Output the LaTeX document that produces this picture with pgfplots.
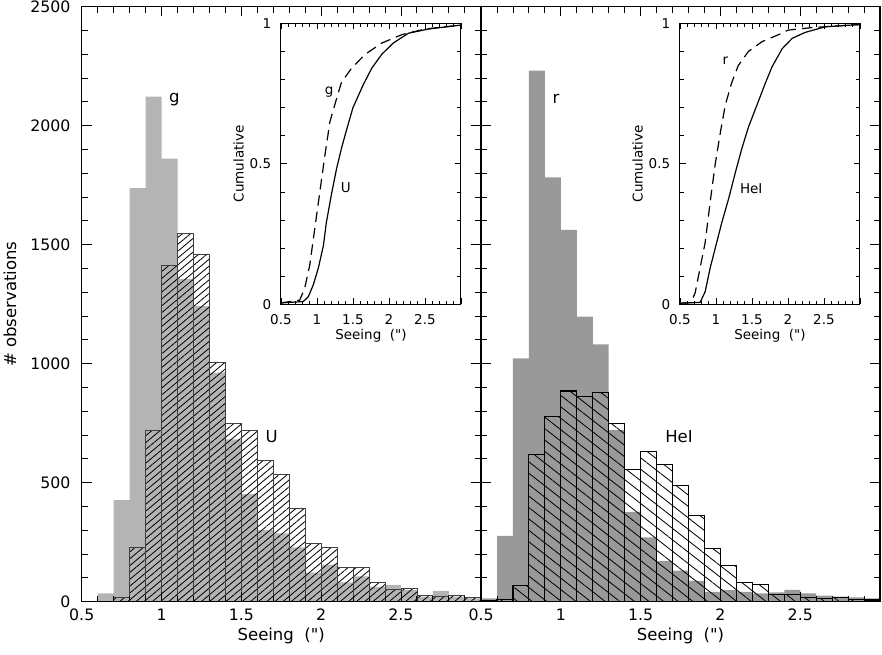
\documentclass[border=0pt]{standalone}
\usepackage{fontspec}
\setmainfont{DejaVu Sans}[Ligatures=TeXOff]
\usepackage{pgfplots}
\pgfplotsset{compat=1.18}
\usetikzlibrary{patterns.meta}
\definecolor{gLight}{RGB}{180,180,180}
\definecolor{rDark}{RGB}{153,153,153}
\newcommand{\mainfont}{\fontsize{10.5}{12}\selectfont}
\newcommand{\labfont}{\fontsize{11}{13}\selectfont}
\newcommand{\insfont}{\fontsize{9}{10.5}\selectfont}
\pgfplotsset{
  mainax/.style={scale only axis, width=266pt, height=396.7pt,
    xmin=0.5, xmax=3, ymin=0, ymax=2500,
    xtick={0.5,1,1.5,2,2.5,3}, xticklabels={0.5,1,1.5,2,2.5,{}}, minor x tick num=4,
    ytick={0,500,1000,1500,2000,2500}, minor y tick num=4,
    tick align=inside, major tick length=6.5pt, minor tick length=4pt,
    axis line style={line width=0.9pt}, every tick/.style={black, line width=0.6pt},
    ticklabel style={font=\mainfont},
    yticklabel style={xshift=-4pt},
    xticklabel style={yshift=-1.5pt},
    xlabel={Seeing~~(\symbol{34})},
    xlabel style={font=\labfont, at={(axis description cs:0.5,-0.058)}, anchor=center},
    axis on top},
  insax/.style={scale only axis, width=120pt, height=187.3pt,
    xmin=0.5, xmax=3, ymin=0, ymax=1,
    axis background/.style={fill=white},
    xtick={0.5,1,1.5,2,2.5,3}, xticklabels={0.5,1,1.5,2,2.5,{}}, minor x tick num=4,
    ytick={0,0.5,1}, yticklabels={0,0.5,1}, minor y tick num=4,
    tick align=inside, major tick length=4pt, minor tick length=2.5pt,
    axis line style={line width=0.7pt}, every tick/.style={black, line width=0.5pt},
    ticklabel style={font=\insfont},
    xticklabel style={yshift=-3.5pt},
    yticklabel style={xshift=-3pt},
    xlabel={Seeing~~(\symbol{34})}, ylabel={Cumulative},
    xlabel style={font=\insfont, at={(axis description cs:0.5,-0.112)}, anchor=center},
    ylabel style={font=\insfont, at={(axis description cs:-0.235,0.5)}, anchor=center},
    axis on top},
}
\begin{document}
\begin{tikzpicture}
\useasboundingbox (0,0) rectangle (588pt,436pt);

% left panel: g (grey) and U (hatched)
\begin{axis}[mainax, at={(54.5pt,34.9pt)}, anchor=south west,
    yticklabels={0,500,1000,1500,2000,2500},
    ylabel={\# observations},
    ylabel style={font=\labfont, at={(axis description cs:-0.18,0.5)}, anchor=center}]
  \addplot[ybar interval, fill=gLight, draw=none] coordinates {
    (0.5,0) (0.6,35) (0.7,427) (0.8,1737) (0.9,2122) (1.0,1861) (1.1,1356)
    (1.2,1242) (1.3,962) (1.4,682) (1.5,452) (1.6,301) (1.7,287) (1.8,228)
    (1.9,122) (2.0,156) (2.1,81) (2.2,106) (2.3,62) (2.4,70) (2.5,48)
    (2.6,21) (2.7,45) (2.8,21) (2.9,14) (3.0,0)};
  \addplot[ybar interval, draw=black!75, line width=0.5pt,
    pattern={Lines[angle=40,distance=3.5pt,line width=0.55pt]}, pattern color=black] coordinates {
    (0.7,17) (0.8,228) (0.9,718) (1.0,1413) (1.1,1548) (1.2,1461) (1.3,1007)
    (1.4,749) (1.5,720) (1.6,594) (1.7,535) (1.8,391) (1.9,245) (2.0,228)
    (2.1,144) (2.2,143) (2.3,81) (2.4,53) (2.5,57) (2.6,27) (2.7,24)
    (2.8,27) (2.9,17) (3.0,0)};
  \node[font=\labfont] at (axis cs:1.08,2110) {g};
  \node[font=\labfont] at (axis cs:1.69,692) {U};
\end{axis}

% right panel: r (grey) and HeI (hatched)
\begin{axis}[mainax, at={(320.7pt,34.9pt)}, anchor=south west, yticklabels={}]
  \addplot[ybar interval, fill=rDark, draw=none] coordinates {
    (0.5,14) (0.6,276) (0.7,1022) (0.8,2231) (0.9,1783) (1.0,1562) (1.1,1197)
    (1.2,1081) (1.3,721) (1.4,377) (1.5,270) (1.6,171) (1.7,130) (1.8,87)
    (1.9,41) (2.0,48) (2.1,41) (2.2,35) (2.3,39) (2.4,50) (2.5,35)
    (2.6,25) (2.7,21) (2.8,18) (2.9,14) (3.0,0)};
  \addplot[ybar interval, draw=black, line width=0.7pt,
    pattern={Lines[angle=-38,distance=6pt,line width=0.55pt]}, pattern color=black] coordinates {
    (0.5,5) (0.6,10) (0.7,66) (0.8,619) (0.9,777) (1.0,885) (1.1,861)
    (1.2,878) (1.3,749) (1.4,557) (1.5,630) (1.6,577) (1.7,486) (1.8,360)
    (1.9,225) (2.0,151) (2.1,80) (2.2,73) (2.3,32) (2.4,31) (2.5,17)
    (2.6,14) (2.7,17) (2.8,11) (2.9,7) (3.0,0)};
  \node[font=\labfont] at (axis cs:0.97,2112) {r};
  \node[font=\labfont] at (axis cs:1.74,692) {HeI};
\end{axis}

% left inset
\begin{axis}[insax, at={(187.3pt,233.1pt)}, anchor=south west]
  \addplot[black, line width=0.8pt] coordinates {
    (0.5,0.005) (0.81,0.01) (0.88,0.027) (0.95,0.07) (1.02,0.13) (1.09,0.21)
    (1.13,0.29) (1.20,0.39) (1.27,0.48) (1.34,0.555) (1.41,0.62) (1.50,0.70)
    (1.64,0.78) (1.76,0.84) (1.90,0.89) (2.06,0.93) (2.27,0.965) (2.55,0.98) (3.0,0.994)};
  \addplot[black, line width=0.8pt, dash pattern=on 7pt off 4pt] coordinates {
    (0.5,0.005) (0.76,0.015) (0.83,0.057) (0.90,0.14) (0.97,0.27) (1.04,0.40)
    (1.11,0.53) (1.18,0.65) (1.27,0.73) (1.34,0.79) (1.48,0.84) (1.67,0.89)
    (1.90,0.93) (2.18,0.96) (2.50,0.98) (3.0,0.994)};
  \node[font=\insfont] at (axis cs:1.17,0.755) {g};
  \node[font=\insfont] at (axis cs:1.40,0.414) {U};
\end{axis}

% right inset
\begin{axis}[insax, at={(453.3pt,233.1pt)}, anchor=south west]
  \addplot[black, line width=0.8pt] coordinates {
    (0.5,0.004) (0.78,0.007) (0.85,0.045) (0.92,0.13) (0.99,0.2) (1.08,0.29)
    (1.18,0.38) (1.27,0.47) (1.36,0.555) (1.45,0.63) (1.57,0.71) (1.69,0.79)
    (1.78,0.846) (1.92,0.91) (2.06,0.947) (2.24,0.968) (2.52,0.988) (3.0,0.996)};
  \addplot[black, line width=0.8pt, dash pattern=on 7pt off 4pt] coordinates {
    (0.5,0.004) (0.65,0.006) (0.71,0.04) (0.78,0.13) (0.85,0.22) (0.92,0.365)
    (0.99,0.50) (1.06,0.61) (1.13,0.71) (1.22,0.79) (1.31,0.85) (1.45,0.90)
    (1.64,0.935) (1.87,0.96) (2.0,0.976) (2.33,0.985) (3.0,0.996)};
  \node[font=\insfont] at (axis cs:1.13,0.866) {r};
  \node[font=\insfont] at (axis cs:1.49,0.41) {HeI};
\end{axis}
\end{tikzpicture}
\end{document}
